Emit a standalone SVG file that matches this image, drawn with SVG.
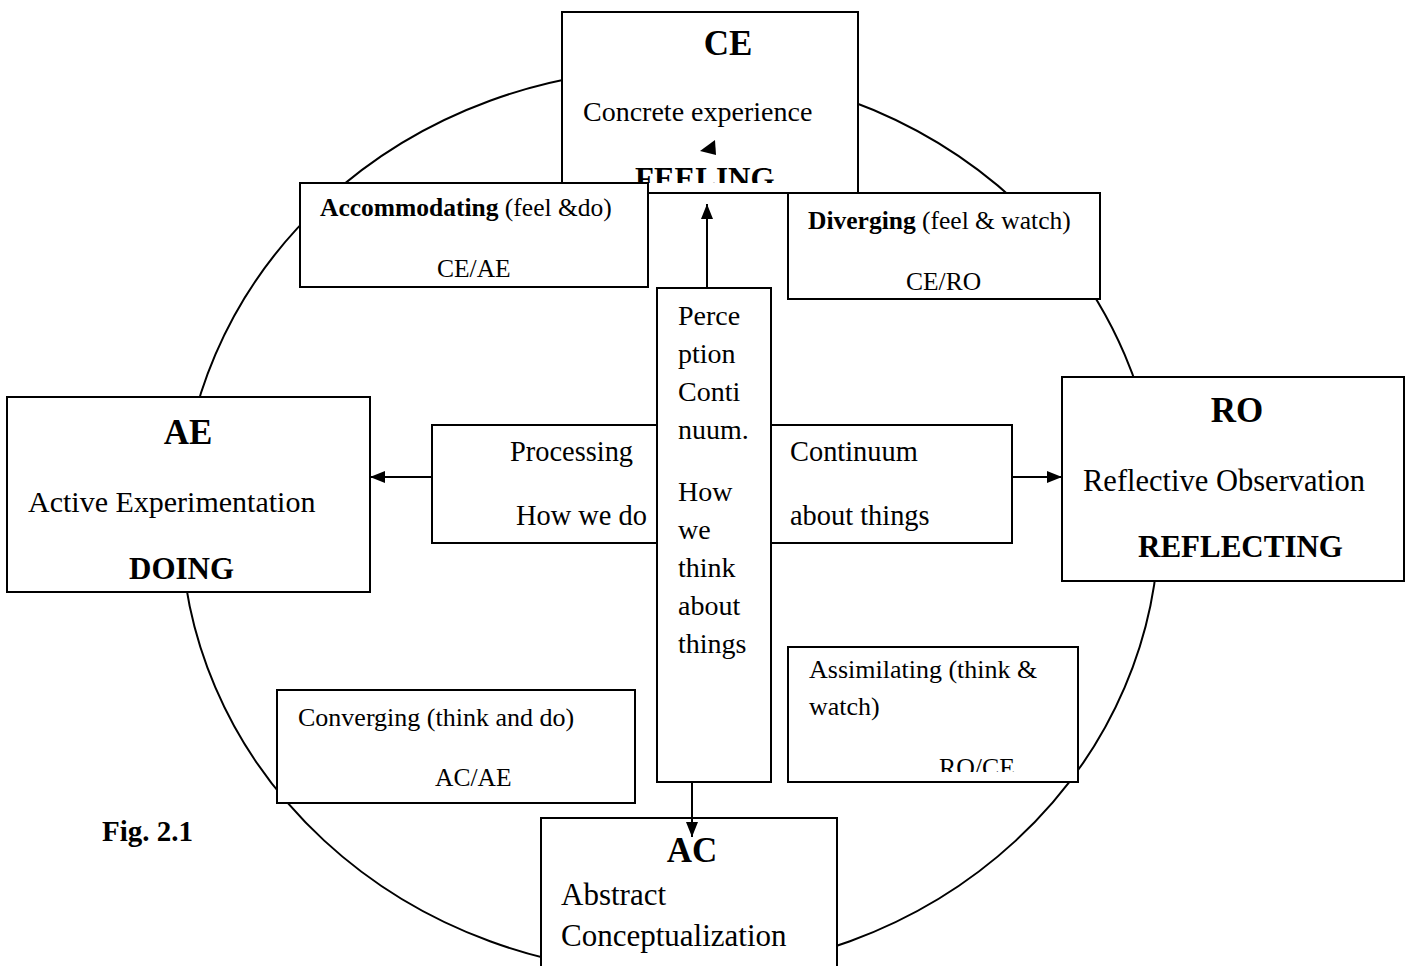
<svg xmlns="http://www.w3.org/2000/svg" width="1409" height="966" viewBox="0 0 1409 966">
<style>
.box{fill:#fff;stroke:#000;stroke-width:2}
.t{font-family:"Liberation Serif","Times New Roman",serif;fill:#000}
.b{font-weight:bold}
.conn{stroke:#000;stroke-width:2;fill:none}
</style>
<defs>
<marker id="arr" markerUnits="userSpaceOnUse" viewBox="0 0 15 12" refX="15" refY="6" markerWidth="15" markerHeight="12" orient="auto">
<path d="M0,0 L15,6 L0,12 z" fill="#000"/>
</marker>
<clipPath id="clipFeel"><rect x="560" y="150" width="300" height="33"/></clipPath>
<clipPath id="clipRoce"><rect x="790" y="740" width="290" height="32"/></clipPath>
</defs>
<rect width="1409" height="966" fill="#fff"/>
<ellipse cx="670" cy="521" rx="489" ry="452" fill="none" stroke="#000" stroke-width="2"/>

<g id="CE">
<rect class="box" x="562" y="12" width="296" height="181"/>
<text class="t b" x="728" y="55" font-size="35" text-anchor="middle">CE</text>
<text class="t" x="583" y="121" font-size="28">Concrete experience</text>
<text class="t b" x="635" y="189" font-size="31" clip-path="url(#clipFeel)">FEELING</text>
</g>

<g id="Accommodating">
<rect class="box" x="300" y="183" width="348" height="104"/>
<text class="t" x="320" y="216" font-size="25.5"><tspan class="b">Accommodating</tspan> (feel &amp;do)</text>
<text class="t" x="437" y="277" font-size="25.5">CE/AE</text>
</g>

<g id="Diverging">
<rect class="box" x="788" y="193" width="312" height="106"/>
<text class="t" x="808" y="229" font-size="25.5"><tspan class="b">Diverging</tspan> (feel &amp; watch)</text>
<text class="t" x="906" y="290" font-size="25.5">CE/RO</text>
</g>

<g id="AE">
<rect class="box" x="7" y="397" width="363" height="195"/>
<text class="t b" x="188" y="444" font-size="35" text-anchor="middle">AE</text>
<text class="t" x="28" y="512" font-size="30">Active Experimentation</text>
<text class="t b" x="129" y="579" font-size="31">DOING</text>
</g>

<g id="RO">
<rect class="box" x="1062" y="377" width="342" height="204"/>
<text class="t b" x="1237" y="422" font-size="35" text-anchor="middle">RO</text>
<text class="t" x="1083" y="491" font-size="30.5">Reflective Observation</text>
<text class="t b" x="1138" y="557" font-size="31">REFLECTING</text>
</g>

<g id="Processing">
<rect class="box" x="432" y="425" width="225" height="118"/>
<text class="t" x="510" y="461" font-size="28.4">Processing</text>
<text class="t" x="516" y="525" font-size="28.4">How we do</text>
</g>

<g id="Continuum">
<rect class="box" x="771" y="425" width="241" height="118"/>
<text class="t" x="790" y="461" font-size="28.4">Continuum</text>
<text class="t" x="790" y="525" font-size="28.4">about things</text>
</g>

<g id="Perception">
<rect class="box" x="657" y="288" width="114" height="494"/>
<text class="t" x="678" font-size="28">
<tspan x="678" y="325">Perce</tspan>
<tspan x="678" y="363">ption</tspan>
<tspan x="678" y="401">Conti</tspan>
<tspan x="678" y="439">nuum.</tspan>
<tspan x="678" y="501">How</tspan>
<tspan x="678" y="539">we</tspan>
<tspan x="678" y="577">think</tspan>
<tspan x="678" y="615">about</tspan>
<tspan x="678" y="653">things</tspan>
</text>
</g>

<g id="Converging">
<rect class="box" x="277" y="690" width="358" height="113"/>
<text class="t" x="298" y="726" font-size="26">Converging (think and do)</text>
<text class="t" x="435" y="786" font-size="25.5">AC/AE</text>
</g>

<g id="Assimilating">
<rect class="box" x="788" y="647" width="290" height="135"/>
<text class="t" x="809" y="678" font-size="26">Assimilating (think &amp;</text>
<text class="t" x="809" y="715" font-size="26">watch)</text>
<text class="t" x="939" y="776" font-size="25.8" clip-path="url(#clipRoce)">RO/CE</text>
</g>

<g id="AC">
<rect class="box" x="541" y="818" width="296" height="160"/>
<text class="t b" x="692" y="862" font-size="35" text-anchor="middle">AC</text>
<text class="t" x="561" y="905" font-size="31">Abstract</text>
<text class="t" x="561" y="946" font-size="31">Conceptualization</text>
</g>

<g id="fig-label">
<text class="t b" x="102" y="841" font-size="29">Fig. 2.1</text>
</g>

<g id="connectors">
<line class="conn" x1="432" y1="477" x2="370" y2="477" marker-end="url(#arr)"/>
<line class="conn" x1="1012" y1="477" x2="1062" y2="477" marker-end="url(#arr)"/>
<line class="conn" x1="707" y1="288" x2="707" y2="204" marker-end="url(#arr)"/>
<line class="conn" x1="692" y1="782" x2="692" y2="837" marker-end="url(#arr)"/>
<polygon points="700,151 715,140 716,155" fill="#000"/>
</g>
</svg>
